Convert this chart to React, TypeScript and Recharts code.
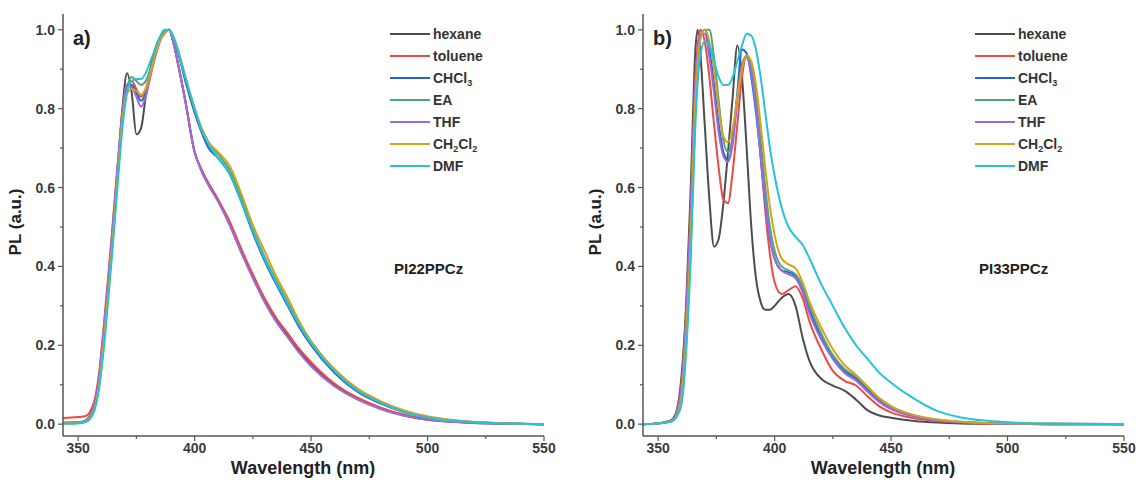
import { Line, LineChart, XAxis, YAxis } from "recharts";

// wavelength grids (nm)
const WL_A = [343, 350, 353, 355, 357, 359, 361, 363, 365, 367, 369, 371, 373, 375, 377, 379, 381, 383, 385, 387, 389, 391, 393, 396, 400, 403, 406, 410, 415, 420, 425, 430, 435, 440, 445, 450, 460, 470, 480, 490, 500, 510, 520, 535, 550];
const WL_B = [343, 350, 353, 356, 358, 360, 362, 364, 366, 367, 368, 370, 372, 374, 376, 378, 380, 382, 384, 386, 388, 390, 392, 394, 396, 398, 400, 403, 406, 409, 412, 415, 420, 425, 430, 435, 440, 445, 450, 460, 470, 480, 490, 500, 520, 550];

// a) PI22PPCz
const HEXANE_A = [0.003, 0.004, 0.008, 0.02, 0.05, 0.12, 0.23, 0.36, 0.5, 0.65, 0.8, 0.89, 0.84, 0.735, 0.75, 0.83, 0.9, 0.95, 0.98, 0.995, 1.0, 0.965, 0.91, 0.82, 0.69, 0.645, 0.61, 0.57, 0.51, 0.44, 0.375, 0.315, 0.265, 0.225, 0.185, 0.152, 0.1, 0.065, 0.04, 0.022, 0.011, 0.006, 0.003, 0.001, 0];
const TOLUENE_A = [0.015, 0.018, 0.02, 0.03, 0.06, 0.13, 0.25, 0.38, 0.52, 0.66, 0.79, 0.86, 0.87, 0.85, 0.83, 0.85, 0.89, 0.93, 0.97, 0.99, 1.0, 0.965, 0.91, 0.82, 0.69, 0.645, 0.61, 0.57, 0.515, 0.445, 0.38, 0.32, 0.27, 0.23, 0.19, 0.157, 0.103, 0.067, 0.042, 0.024, 0.013, 0.007, 0.004, 0.001, 0];
const CHCL3_A = [0.003, 0.004, 0.008, 0.018, 0.045, 0.11, 0.22, 0.35, 0.49, 0.64, 0.78, 0.86, 0.86, 0.84, 0.82, 0.84, 0.89, 0.935, 0.97, 0.995, 1.0, 0.975, 0.94, 0.87, 0.79, 0.74, 0.7, 0.675, 0.635, 0.565, 0.485, 0.415, 0.355, 0.3, 0.245, 0.2, 0.13, 0.082, 0.052, 0.03, 0.017, 0.009, 0.005, 0.002, 0];
const EA_A = [0.002, 0.003, 0.006, 0.015, 0.04, 0.1, 0.21, 0.34, 0.48, 0.63, 0.77, 0.85, 0.88, 0.87, 0.86, 0.87, 0.9, 0.94, 0.975, 0.995, 1.0, 0.98, 0.945, 0.88, 0.8, 0.75, 0.715, 0.685, 0.645, 0.575, 0.495, 0.425, 0.365, 0.31, 0.255, 0.21, 0.138, 0.087, 0.055, 0.032, 0.018, 0.01, 0.005, 0.002, 0];
const THF_A = [0.004, 0.005, 0.009, 0.02, 0.05, 0.12, 0.24, 0.37, 0.51, 0.66, 0.79, 0.86, 0.855, 0.83, 0.805, 0.83, 0.88, 0.93, 0.97, 0.995, 1.0, 0.965, 0.91, 0.82, 0.69, 0.64, 0.605, 0.565, 0.505, 0.435, 0.37, 0.31, 0.26, 0.22, 0.18, 0.147, 0.096, 0.062, 0.038, 0.021, 0.011, 0.006, 0.003, 0.001, 0];
const CH2CL2_A = [0.002, 0.003, 0.006, 0.015, 0.04, 0.1, 0.21, 0.34, 0.48, 0.63, 0.77, 0.84, 0.85, 0.845, 0.835, 0.85, 0.89, 0.935, 0.97, 0.99, 1.0, 0.98, 0.945, 0.88, 0.8, 0.75, 0.715, 0.69, 0.655, 0.585, 0.505, 0.44, 0.375, 0.32, 0.26, 0.21, 0.14, 0.09, 0.058, 0.035, 0.02, 0.011, 0.006, 0.002, 0];
const DMF_A = [0.001, 0.002, 0.005, 0.012, 0.035, 0.09, 0.19, 0.32, 0.46, 0.61, 0.75, 0.84, 0.87, 0.875, 0.875, 0.89, 0.92, 0.95, 0.98, 1.0, 1.0, 0.98, 0.945, 0.88, 0.8, 0.745, 0.71, 0.675, 0.635, 0.565, 0.49, 0.42, 0.36, 0.305, 0.25, 0.205, 0.135, 0.085, 0.054, 0.031, 0.017, 0.009, 0.005, 0.002, 0];

// b) PI33PPCz
const HEXANE_B = [0, 0.002, 0.005, 0.012, 0.035, 0.12, 0.3, 0.6, 0.95, 1.0, 0.95, 0.76, 0.57, 0.45, 0.47, 0.56, 0.69, 0.83, 0.96, 0.88, 0.7, 0.5, 0.37, 0.31, 0.29, 0.29, 0.3, 0.32, 0.33, 0.3, 0.22, 0.16, 0.115, 0.098, 0.085, 0.062, 0.035, 0.022, 0.016, 0.008, 0.004, 0.002, 0.001, 0.001, 0, 0];
const TOLUENE_B = [0, 0.002, 0.005, 0.01, 0.03, 0.1, 0.27, 0.55, 0.88, 0.96, 1.0, 0.97, 0.88, 0.76, 0.65, 0.57, 0.56, 0.64, 0.76, 0.88, 0.935, 0.91, 0.82, 0.68, 0.54, 0.43, 0.36, 0.33, 0.34, 0.35, 0.32, 0.26, 0.19, 0.135, 0.11, 0.098, 0.07, 0.045, 0.03, 0.015, 0.008, 0.004, 0.002, 0.001, 0, 0];
const CHCL3_B = [0, 0.002, 0.004, 0.009, 0.025, 0.08, 0.24, 0.5, 0.83, 0.92, 0.98, 1.0, 0.95, 0.86, 0.76, 0.69, 0.67, 0.72, 0.84, 0.95, 0.94, 0.88, 0.79, 0.68, 0.56, 0.47, 0.42, 0.39, 0.385, 0.375, 0.34, 0.29, 0.22, 0.17, 0.135, 0.115, 0.088, 0.06, 0.042, 0.021, 0.01, 0.005, 0.003, 0.002, 0.001, 0];
const EA_B = [0, 0.002, 0.004, 0.008, 0.02, 0.06, 0.2, 0.45, 0.8, 0.92, 0.98, 1.0, 1.0, 0.93, 0.82, 0.72, 0.69, 0.73, 0.83, 0.91, 0.935, 0.91, 0.83, 0.72, 0.6, 0.5, 0.44, 0.4, 0.39, 0.38, 0.35, 0.3, 0.23, 0.175, 0.14, 0.12, 0.092, 0.064, 0.044, 0.022, 0.011, 0.006, 0.003, 0.002, 0.001, 0];
const THF_B = [0, 0.002, 0.005, 0.01, 0.03, 0.1, 0.27, 0.54, 0.87, 0.95, 0.99, 0.99, 0.93, 0.84, 0.74, 0.68, 0.665, 0.71, 0.82, 0.91, 0.93, 0.89, 0.8, 0.68, 0.56, 0.47, 0.42, 0.39, 0.38, 0.37, 0.335, 0.28, 0.215, 0.165, 0.13, 0.11, 0.082, 0.056, 0.038, 0.019, 0.009, 0.005, 0.003, 0.001, 0, 0];
const CH2CL2_B = [0, 0.002, 0.004, 0.008, 0.022, 0.07, 0.22, 0.48, 0.82, 0.92, 0.97, 1.0, 0.97, 0.9, 0.8, 0.73, 0.715, 0.75, 0.83, 0.9, 0.935, 0.92, 0.86, 0.76, 0.65, 0.55, 0.48, 0.42, 0.405, 0.395, 0.36, 0.31, 0.245, 0.19, 0.15, 0.125, 0.095, 0.066, 0.046, 0.023, 0.012, 0.006, 0.003, 0.002, 0.001, 0];
const DMF_B = [0, 0.002, 0.004, 0.008, 0.02, 0.05, 0.18, 0.42, 0.76, 0.87, 0.93, 0.97, 0.96, 0.92, 0.88, 0.86, 0.86, 0.88, 0.92, 0.96, 0.99, 0.985, 0.95, 0.88, 0.79, 0.7, 0.63, 0.55, 0.5, 0.475, 0.455, 0.42, 0.355, 0.3, 0.245, 0.2, 0.165, 0.13, 0.105, 0.064, 0.033, 0.017, 0.009, 0.005, 0.001, 0];

const X_TICKS = [350, 375, 400, 425, 450, 475, 500, 525, 550];
const Y_TICKS = [0, 0.1, 0.2, 0.3, 0.4, 0.5, 0.6, 0.7, 0.8, 0.9, 1.0];
const X_MAJOR = [350, 400, 450, 500, 550];

const SERIES = [
  { key: "hexane", name: "hexane", color: "#4d4d4d" },
  { key: "toluene", name: "toluene", color: "#ec4a43" },
  { key: "chcl3", name: "CHCl|3", color: "#2166c4" },
  { key: "ea", name: "EA", color: "#4fa583" },
  { key: "thf", name: "THF", color: "#9a6bdd" },
  { key: "ch2cl2", name: "CH|2|Cl|2", color: "#d6a21c" },
  { key: "dmf", name: "DMF", color: "#26c3d6" },
];

function buildRows(wl: number[], cols: number[][]) {
  return wl.map((x, i) => {
    const row: Record<string, number> = { x };
    SERIES.forEach((s, j) => (row[s.key] = cols[j][i]));
    return row;
  });
}

const ROWS_A = buildRows(WL_A, [HEXANE_A, TOLUENE_A, CHCL3_A, EA_A, THF_A, CH2CL2_A, DMF_A]);
const ROWS_B = buildRows(WL_B, [HEXANE_B, TOLUENE_B, CHCL3_B, EA_B, THF_B, CH2CL2_B, DMF_B]);

const FONT = "'Liberation Sans', Arial, sans-serif";
const AXIS = "#555";

function XTick(props: any) {
  const { x, y, payload } = props;
  const major = X_MAJOR.includes(payload.value);
  return (
    <g>
      <line x1={x} x2={x} y1={y} y2={y + (major ? 5 : 3)} stroke={AXIS} strokeWidth={1.2} />
      {major && (
        <text x={x} y={y + 17} textAnchor="middle" fontFamily={FONT} fontWeight="bold" fontSize={14} fill="#3a3a3a">
          {payload.value}
        </text>
      )}
    </g>
  );
}

function YTick(props: any) {
  const { x, y, payload } = props;
  const major = Math.round(payload.value * 10) % 2 === 0;
  return (
    <g>
      <line x1={x} x2={x - (major ? 5 : 3)} y1={y} y2={y} stroke={AXIS} strokeWidth={1.2} />
      {major && (
        <text x={x - 8} y={y + 5} textAnchor="end" fontFamily={FONT} fontWeight="bold" fontSize={14} fill="#3a3a3a">
          {payload.value.toFixed(1)}
        </text>
      )}
    </g>
  );
}

function Label({ text }: { text: string }) {
  const parts = text.split("|");
  return (
    <>
      {parts.map((p, i) =>
        i % 2 === 1 ? (
          <sub key={i} style={{ fontSize: 9, verticalAlign: "-3px" }}>{p}</sub>
        ) : (
          <span key={i}>{p}</span>
        )
      )}
    </>
  );
}

function Panel({
  rows,
  left,
  width,
  tag,
  compound,
  legendLeft,
}: {
  rows: Record<string, number>[];
  left: number;
  width: number;
  tag: string;
  compound: string;
  legendLeft: number;
}) {
  const text: React.CSSProperties = {
    position: "absolute",
    fontFamily: FONT,
    fontWeight: "bold",
    color: "#222",
    whiteSpace: "nowrap",
  };
  return (
    <div style={{ position: "absolute", left, top: 0, width, height: 485 }}>
      <LineChart width={width} height={485} data={rows} margin={{ top: 14, right: width - 544, bottom: 0, left: 0 }}>
        <XAxis
          dataKey="x"
          type="number"
          domain={[343.5, 550]}
          allowDataOverflow
          ticks={X_TICKS}
          interval={0}
          tick={<XTick />}
          tickLine={false}
          tickSize={0}
          tickMargin={0}
          axisLine={{ stroke: AXIS, strokeWidth: 1.5 }}
          height={49}
        />
        <XAxis
          xAxisId="top"
          orientation="top"
          dataKey="x"
          type="number"
          domain={[343.5, 550]}
          allowDataOverflow
          tick={false}
          tickLine={false}
          axisLine={{ stroke: "#777", strokeWidth: 1.5 }}
          height={0}
        />
        <YAxis
          type="number"
          domain={[-0.03, 1.04]}
          allowDataOverflow
          ticks={Y_TICKS}
          interval={0}
          tick={<YTick />}
          tickLine={false}
          tickSize={0}
          tickMargin={0}
          axisLine={{ stroke: AXIS, strokeWidth: 1.5 }}
          width={63}
        />
        <YAxis
          yAxisId="right"
          orientation="right"
          type="number"
          domain={[-0.03, 1.04]}
          allowDataOverflow
          tick={false}
          tickLine={false}
          axisLine={{ stroke: "#888", strokeWidth: 1.5 }}
          width={0}
        />
        {SERIES.map((s) => (
          <Line
            key={s.key}
            dataKey={s.key}
            type="monotone"
            stroke={s.color}
            strokeWidth={2}
            dot={false}
            isAnimationActive={false}
          />
        ))}
      </LineChart>

      <div style={{ ...text, left: 73, top: 27, fontSize: 20 }}>{tag}</div>
      <div style={{ ...text, left: legendLeft + 4, top: 260, fontSize: 15 }}>{compound}</div>
      <div style={{ ...text, left: 303, top: 458, fontSize: 18, transform: "translateX(-50%)" }}>Wavelength (nm)</div>
      <div
        style={{
          ...text,
          left: 16,
          top: 222,
          fontSize: 17,
          transform: "translate(-50%, -50%) rotate(-90deg)",
        }}
      >
        PL (a.u.)
      </div>

      {SERIES.map((s, i) => (
        <div key={s.key} style={{ position: "absolute", left: legendLeft, top: 34 + i * 22 - 10, height: 20, width: 120 }}>
          <div style={{ position: "absolute", left: 0, top: 9, width: 40, height: 2, background: s.color }} />
          <div style={{ ...text, left: 43, top: 0, fontSize: 14, lineHeight: "20px", color: "#333" }}>
            <Label text={s.name} />
          </div>
        </div>
      ))}
    </div>
  );
}

export default function App() {
  return (
    <div style={{ position: "absolute", left: 0, top: 0, width: 1140, height: 485, background: "#fff" }}>
      <Panel rows={ROWS_A} left={0} width={570} tag="a)" compound="PI22PPCz" legendLeft={390} />
      <Panel rows={ROWS_B} left={580} width={560} tag="b)" compound="PI33PPCz" legendLeft={395} />
    </div>
  );
}
